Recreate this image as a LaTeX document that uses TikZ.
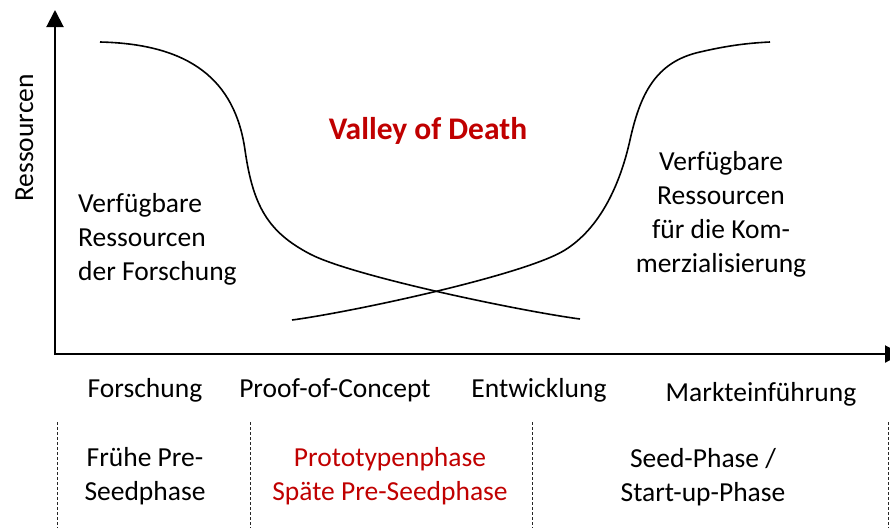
\documentclass[tikz,border=0pt]{standalone}
\usepackage{fontspec}
\setmainfont{Carlito}
\usetikzlibrary{arrows.meta}
\definecolor{deathred}{HTML}{C00000}
\tikzset{
	axis/.style={line width=2pt, -{Triangle[length=17pt,width=17pt]}},
	curve/.style={line width=1.6pt},
	phaseline/.style={line width=0.8pt, dash pattern=on 3pt off 2pt, black!85},
	lbl/.style={inner sep=0pt, font=\fontsize{27.5}{34}\selectfont},
	title/.style={inner sep=0pt, text=deathred, font=\fontsize{31.5}{38}\selectfont\bfseries},
}

\begin{document}
\begin{tikzpicture}[x=1pt,y=-1pt]
			%%%%% START %%%%%
			
			\useasboundingbox (0,0) rectangle (890,528);
			\clip (0,0) rectangle (890,528);
			
			\coordinate (origin) at (55,355);
			\coordinate (ytop) at (55,10);
			\coordinate (xend) at (902,354);
			\draw[axis] (origin) -- (ytop);
			\draw[axis] (origin |- xend) -- (xend);
			
			\node[lbl, rotate=90, anchor=base] (ylabel) at (33,138) {Ressourcen};
			\node[title, anchor=base] (valley) at (428,139) {Valley of Death};
			
			% research curve
			\draw[curve] (100,42) .. controls (190,44) and (235,80) .. (245,150)
				.. controls (253,206) and (268,232) .. (310,254)
				.. controls (352,276) and (520,311) .. (580,319);
			% commercialisation curve
			\draw[curve] (292,320) .. controls (352,312) and (525,275) .. (565,250)
				.. controls (600,228) and (620,185) .. (630,140)
				.. controls (640,95) and (655,62) .. (700,52)
				.. controls (730,45) and (750,43) .. (770,42);
			
			\node[lbl, align=left, anchor=base west] (research) at (78,280) {Verfügbare\\Ressourcen\\der Forschung};
			\node[lbl, align=center, anchor=base] (market) at (721,272) {Verfügbare\\Ressourcen\\für die Kom-\\merzialisierung};
			
			\node[lbl, anchor=base] (forschung) at (145,397) {Forschung};
			\node[lbl, anchor=base] (proof) at (335,397) {Proof-of-Concept};
			\node[lbl, anchor=base] (entwicklung) at (539,397) {Entwicklung};
			\node[lbl, anchor=base] (markt) at (761,401) {Markteinführung};
			
			\foreach \x/\name in {57/a, 250/b, 532/c, 888/d}
			{
				\coordinate (top\name) at (\x,422);
				\coordinate (bot\name) at (\x,528);
				\draw[phaseline] (top\name) -- (bot\name);
			}
			
			\node[lbl, align=center, anchor=base] (early) at (145,500) {Frühe Pre-\\Seedphase};
			\node[lbl, align=center, anchor=base, text=deathred] (proto) at (390,500) {Prototypenphase\\Späte Pre-Seedphase};
			\node[lbl, align=center, anchor=base] (seed) at (703,501) {Seed-Phase /\\Start-up-Phase};
			
			%%%%% END %%%%%
\end{tikzpicture}
\end{document}
